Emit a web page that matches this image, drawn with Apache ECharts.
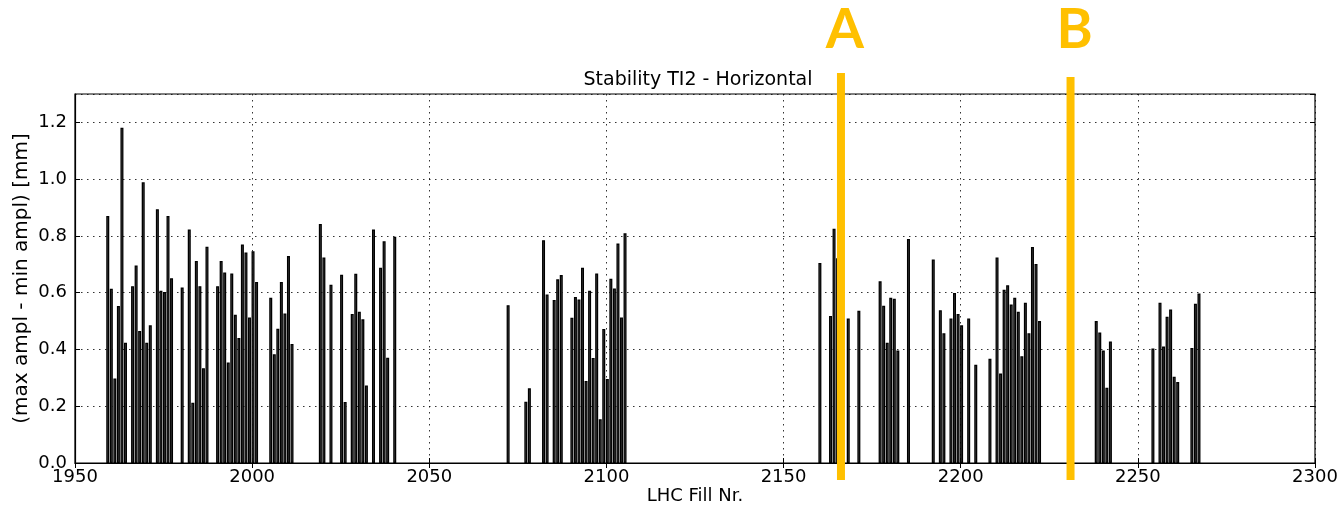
<!DOCTYPE html>
<html>
<head>
<meta charset="utf-8">
<title>Stability TI2 - Horizontal</title>
<script src="https://cdn.jsdelivr.net/npm/echarts@6/dist/echarts.min.js"></script>
<style>
  html, body { margin: 0; padding: 0; background: #fff; }
  #chart { width: 1338px; height: 507px; }
</style>
</head>
<body>
<div id="chart"></div>
<script>
// LHC fill numbers and the measured stability (max ampl - min ampl) in mm
const fills = [
  1959, 1960, 1961, 1962, 1963, 1964, 1966, 1967, 1968, 1969, 1970, 1971,
  1973, 1974, 1975, 1976, 1977, 1980, 1982, 1983, 1984, 1985, 1986, 1987,
  1990, 1991, 1992, 1993, 1994, 1995, 1996, 1997, 1998, 1999, 2000, 2001,
  2005, 2006, 2007, 2008, 2009, 2010, 2011,
  2019, 2020, 2022, 2025, 2026, 2028, 2029, 2030, 2031, 2032, 2034, 2036, 2037, 2038, 2040,
  2072, 2077, 2078, 2082, 2083, 2085, 2086, 2087,
  2090, 2091, 2092, 2093, 2094, 2095, 2096, 2097, 2098, 2099, 2100, 2101, 2102, 2103, 2104, 2105,
  2160, 2163, 2164, 2165, 2168, 2171, 2177, 2178, 2179, 2180, 2181, 2182, 2185,
  2192, 2194, 2195, 2197, 2198, 2199, 2200, 2202, 2204, 2208,
  2210, 2211, 2212, 2213, 2214, 2215, 2216, 2217, 2218, 2219, 2220, 2221, 2222,
  2238, 2239, 2240, 2241, 2242,
  2254, 2256, 2257, 2258, 2259, 2260, 2261, 2265, 2266, 2267
];
const amplitude = [
  0.870, 0.614, 0.298, 0.553, 1.181, 0.424, 0.623, 0.696, 0.465, 0.989, 0.424, 0.485,
  0.894, 0.607, 0.602, 0.870, 0.651, 0.618, 0.823, 0.212, 0.712, 0.623, 0.334, 0.762,
  0.623, 0.712, 0.671, 0.354, 0.668, 0.522, 0.440, 0.770, 0.742, 0.513, 0.746, 0.638,
  0.582, 0.383, 0.473, 0.638, 0.527, 0.729, 0.419,
  0.842, 0.724, 0.628, 0.663, 0.215, 0.525, 0.667, 0.533, 0.506, 0.273, 0.823, 0.688, 0.781, 0.371, 0.797,
  0.556, 0.216, 0.263, 0.785, 0.594, 0.574, 0.647, 0.662,
  0.512, 0.585, 0.576, 0.688, 0.289, 0.607, 0.370, 0.668, 0.154, 0.472, 0.296, 0.649, 0.615, 0.773, 0.513, 0.809,
  0.705, 0.518, 0.825, 0.721, 0.509, 0.536, 0.640, 0.554, 0.424, 0.582, 0.579, 0.396, 0.789,
  0.717, 0.538, 0.457, 0.509, 0.599, 0.525, 0.485, 0.509, 0.346, 0.367,
  0.724, 0.315, 0.610, 0.626, 0.558, 0.582, 0.533, 0.376, 0.565, 0.457, 0.761, 0.701, 0.500,
  0.500, 0.460, 0.396, 0.265, 0.428,
  0.403, 0.565, 0.410, 0.515, 0.541, 0.304, 0.285, 0.405, 0.561, 0.597
];

// Axis ticks
const xTicks = [1950, 2000, 2050, 2100, 2150, 2200, 2250, 2300];
const yTicks = [0.0, 0.2, 0.4, 0.6, 0.8, 1.0, 1.2];

// Marked fills (orange markers)
const markerLabels = ['A', 'B'];
const markerFills = [2166.2, 2231.0];

// Bars are drawn from the fill number towards the right (edge aligned)
const BAR_SHIFT = 0.25;

const FONT = 'DejaVu Sans';
const ORANGE = '#FFC000';

const chart = echarts.init(document.getElementById('chart'), null, { renderer: 'canvas' });

const barData = fills.map((f, i) => [f + BAR_SHIFT, amplitude[i]]);

const gridLine = { show: true, lineStyle: { color: '#000', type: [1.5, 4.5], width: 1, opacity: 0.8 } };

chart.setOption({
  animation: false,
  backgroundColor: '#fff',
  title: {
    text: 'Stability TI2 - Horizontal',
    left: 693, top: 66, textAlign: 'center',
    textStyle: { fontFamily: FONT, fontSize: 19, fontWeight: 'normal', color: '#000' }
  },
  grid: {
    left: 75, right: 23, top: 94, bottom: 44, containLabel: false, outerBoundsMode: 'none',
    show: true, borderColor: '#000', borderWidth: 1.2
  },
  xAxis: [{
    type: 'value', min: xTicks[0], max: xTicks[xTicks.length - 1], interval: 50,
    name: 'LHC Fill Nr.', nameLocation: 'middle', nameGap: 24, nameMoveOverlap: false,
    nameTextStyle: { fontFamily: FONT, fontSize: 18, color: '#000' },
    axisLine: { show: true, onZero: false, lineStyle: { color: '#000', width: 1.2 } },
    axisTick: { show: true, inside: true, length: 5, lineStyle: { color: '#000' } },
    axisLabel: { fontFamily: FONT, fontSize: 18, color: '#000', margin: 5, formatter: v => String(v) },
    splitLine: gridLine
  }, {
    type: 'value', position: 'top', min: xTicks[0], max: xTicks[xTicks.length - 1], interval: 50,
    axisLine: { show: false },
    axisTick: { show: true, inside: true, length: 5, lineStyle: { color: '#000' } },
    axisLabel: { show: false }, splitLine: { show: false }
  }],
  yAxis: [{
    type: 'value', min: 0, max: 1.3, interval: 0.2,
    name: '(max ampl - min ampl) [mm]', nameLocation: 'middle', nameGap: 43, nameMoveOverlap: false,
    nameTextStyle: { fontFamily: FONT, fontSize: 20, color: '#000' },
    axisLine: { show: true, lineStyle: { color: '#000', width: 1.2 } },
    axisTick: { show: true, inside: true, length: 5, lineStyle: { color: '#000' } },
    axisLabel: {
      fontFamily: FONT, fontSize: 18, color: '#000', margin: 8, showMaxLabel: false,
      formatter: v => yTicks.some(t => Math.abs(t - v) < 1e-6) ? v.toFixed(1) : ''
    },
    splitLine: gridLine
  }, {
    type: 'value', position: 'right', min: 0, max: 1.3, interval: 0.2,
    axisLine: { show: false },
    axisTick: { show: true, inside: true, length: 5, lineStyle: { color: '#000' } },
    axisLabel: { show: false }, splitLine: { show: false }
  }],
  series: [{
    type: 'bar',
    data: barData,
    barWidth: 3,
    itemStyle: { color: '#555', borderColor: '#000', borderWidth: 1.3 },
    emphasis: { disabled: true }
  }]
});

// Orange marker lines with their letters, placed through the x axis scale
function drawMarkers() {
  const elements = [];
  const tops = [73, 77];
  markerFills.forEach((f, i) => {
    const x = chart.convertToPixel({ xAxisIndex: 0 }, f);
    elements.push({
      type: 'line', z: 100,
      shape: { x1: x, y1: tops[i], x2: x, y2: 480 },
      style: { stroke: ORANGE, lineWidth: 8 }
    });
    elements.push({
      type: 'text', z: 100,
      x: x + 4, y: 3,
      style: {
        text: markerLabels[i], fill: ORANGE, align: 'center', verticalAlign: 'top',
        font: 'bold 55px Lato'
      }
    });
  });
  chart.setOption({ graphic: elements });
}
drawMarkers();
</script>
</body>
</html>
